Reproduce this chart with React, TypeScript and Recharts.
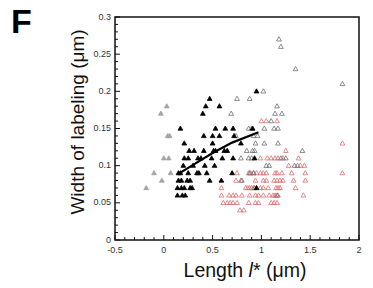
import React from 'react'
import { ScatterChart, Scatter, XAxis, YAxis, ReferenceArea } from 'recharts'

// tick positions (minor every 0.1 / 0.01) and the labelled ones
const xTicks = [-0.5, -0.4, -0.3, -0.2, -0.1, 0, 0.1, 0.2, 0.3, 0.4, 0.5, 0.6, 0.7, 0.8, 0.9, 1, 1.1, 1.2, 1.3, 1.4, 1.5, 1.6, 1.7, 1.8, 1.9, 2]
const xTickLabels = ['-0.5', '0', '0.5', '1', '1.5', '2']
const yTicks = [0, 0.01, 0.02, 0.03, 0.04, 0.05, 0.06, 0.07, 0.08, 0.09, 0.1, 0.11, 0.12, 0.13, 0.14, 0.15, 0.16, 0.17, 0.18, 0.19, 0.2, 0.21, 0.22, 0.23, 0.24, 0.25, 0.26, 0.27, 0.28, 0.29, 0.3]
const yTickLabels = ['0', '0.05', '0.1', '0.15', '0.2', '0.25', '0.3']

// filled black triangles
const blackFilled: [number, number][] = [
  [0.95, 0.2], [0.47, 0.19], [0.43, 0.18], [0.57, 0.18], [0.4, 0.17],
  [0.17, 0.15], [0.53, 0.15], [0.63, 0.15], [0.71, 0.15], [0.91, 0.15],
  [0.41, 0.14], [0.5, 0.14], [0.57, 0.14], [0.72, 0.14],
  [0.21, 0.13], [0.5, 0.13], [0.79, 0.13],
  [0.26, 0.12], [0.31, 0.12], [0.41, 0.12], [0.51, 0.12], [0.53, 0.12], [0.62, 0.12], [0.65, 0.12],
  [0.21, 0.11], [0.25, 0.11], [0.35, 0.11], [0.38, 0.11], [0.49, 0.11], [0.6, 0.11], [0.71, 0.11], [0.93, 0.11],
  [0.2, 0.1], [0.3, 0.1], [0.42, 0.1], [0.52, 0.1],
  [0.15, 0.09], [0.17, 0.09], [0.25, 0.09], [0.34, 0.09], [0.36, 0.09], [0.44, 0.09], [0.7, 0.09],
  [0.15, 0.08], [0.18, 0.08], [0.24, 0.08], [0.27, 0.08], [0.47, 0.08], [0.59, 0.08],
  [0.14, 0.07], [0.18, 0.07], [0.21, 0.07], [0.27, 0.07], [0.29, 0.07], [0.95, 0.07],
  [0.14, 0.06], [0.19, 0.06], [0.22, 0.06],
]

// light grey filled triangles, left side
const greyFilled: [number, number][] = [
  [-0.18, 0.07], [-0.1, 0.09], [-0.03, 0.17], [0.03, 0.18], [0.04, 0.14], [0.06, 0.14],
  [0.0, 0.11], [0.05, 0.11], [-0.02, 0.08], [0.07, 0.09],
]

// dark grey open triangles
const greyOpen: [number, number][] = [
  [1.18, 0.27], [1.2, 0.26], [1.35, 0.23], [1.83, 0.21], [1.02, 0.2], [0.75, 0.19], [0.88, 0.19],
  [0.69, 0.17], [1.16, 0.18], [1.14, 0.17], [1.21, 0.17], [1.1, 0.16],
  [0.87, 0.15], [0.9, 0.15], [1.03, 0.15], [1.13, 0.15], [1.17, 0.15],
  [0.74, 0.14], [0.92, 0.14], [0.96, 0.14],
  [0.94, 0.13], [1.03, 0.13], [1.17, 0.13],
  [0.85, 0.12], [0.91, 0.12], [0.93, 0.12], [1.42, 0.12],
  [0.79, 0.11], [0.87, 0.11], [0.9, 0.11], [1.2, 0.11], [1.25, 0.11],
  [1.05, 0.1], [1.08, 0.1], [1.34, 0.1], [1.37, 0.1],
  [0.8, 0.08], [0.88, 0.09], [0.92, 0.09], [1.16, 0.06], [0.93, 0.07],
]

// red open triangles
const redOpen: [number, number][] = [
  [1.83, 0.13], [1.83, 0.09],
  [1.0, 0.16], [1.05, 0.16], [1.16, 0.16],
  [1.25, 0.12],
  [0.99, 0.11], [1.06, 0.11], [1.1, 0.11], [1.14, 0.11], [1.17, 0.11], [1.22, 0.11], [1.38, 0.11],
  [1.28, 0.1], [1.4, 0.1], [1.44, 0.1],
  [0.75, 0.09], [0.87, 0.09], [0.89, 0.09], [0.92, 0.09], [0.95, 0.09], [0.99, 0.09], [1.02, 0.09], [1.05, 0.09],
  [1.14, 0.09], [1.16, 0.09], [1.21, 0.09], [1.31, 0.09], [1.45, 0.09],
  [0.74, 0.08], [0.79, 0.08], [0.94, 0.08], [1.02, 0.08], [1.05, 0.08], [1.13, 0.08], [1.16, 0.08],
  [1.19, 0.08], [1.22, 0.08], [1.33, 0.08], [1.45, 0.08],
  [0.59, 0.07], [0.84, 0.07], [0.86, 0.07], [0.88, 0.07], [0.9, 0.07], [0.92, 0.07], [0.99, 0.07],
  [1.02, 0.07], [1.07, 0.07], [1.15, 0.07], [1.17, 0.07], [1.19, 0.07], [1.35, 0.07],
  [0.59, 0.06], [0.67, 0.06], [0.71, 0.06], [0.74, 0.06], [0.8, 0.06], [0.88, 0.06], [0.94, 0.06],
  [0.97, 0.06], [1.02, 0.06], [1.08, 0.06], [1.12, 0.06], [1.14, 0.06], [1.17, 0.06], [1.43, 0.06],
  [0.61, 0.05], [0.65, 0.05], [0.68, 0.05], [0.71, 0.05], [0.75, 0.05], [0.87, 0.05], [0.94, 0.05],
  [0.97, 0.05], [1.1, 0.05], [1.13, 0.05], [1.16, 0.05],
  [0.78, 0.04], [0.82, 0.04],
]

// fitted trend through the black points
const fitLine: [number, number][] = [
  [0.15, 0.089], [0.3, 0.101], [0.5, 0.117], [0.7, 0.131], [0.97, 0.145],
]

const toPts = (arr: [number, number][]) => arr.map(([x, y]) => ({ x, y }))
const fmt = (v: number) => String(+v.toFixed(2))
const FONT = '"Liberation Sans", Arial, Helvetica, sans-serif'

const tri = (fill: string, stroke: string) => (props: any) => {
  const { cx, cy } = props
  if (cx == null || cy == null) return <g />
  const w = 2.4
  const h = 4.2
  return (
    <polygon
      points={`${cx},${cy - h * 0.6} ${cx - w},${cy + h * 0.4} ${cx + w},${cy + h * 0.4}`}
      fill={fill}
      stroke={stroke}
      strokeWidth={0.8}
    />
  )
}

const XTick = (props: any) => {
  const { x, y, payload } = props
  const lab = fmt(payload.value)
  const major = xTickLabels.includes(lab)
  return (
    <g>
      <line x1={x} x2={x} y1={y} y2={y - (major ? 5 : 3)} stroke="#111" strokeWidth={1} />
      {major && (
        <text x={x} y={y + 12.5} textAnchor="middle" fontSize={9} fill="#333" fontFamily={FONT}>{lab}</text>
      )}
    </g>
  )
}

const YTick = (props: any) => {
  const { x, y, payload } = props
  const lab = fmt(payload.value)
  const major = yTickLabels.includes(lab)
  return (
    <g>
      <line x1={x} x2={x + (major ? 5 : 3)} y1={y} y2={y} stroke="#111" strokeWidth={1} />
      {major && (
        <text x={x - 4} y={y + 2.5} textAnchor="end" fontSize={9} fill="#333" fontFamily={FONT}>{lab}</text>
      )}
    </g>
  )
}

export default function App() {
  return (
    <div style={{ position: 'absolute', left: 0, top: 0, width: 373, height: 288, background: '#fff' }}>
      <div style={{ position: 'absolute', left: 11, top: 2, fontSize: 34, fontWeight: 'bold', fontFamily: FONT, color: '#000' }}>F</div>
      <ScatterChart width={373} height={288} margin={{ top: 17, right: 14, bottom: 0, left: 0 }}>
        <XAxis
          type="number"
          dataKey="x"
          domain={[-0.5, 2]}
          ticks={xTicks}
          interval={0}
          allowDataOverflow
          height={48}
          axisLine={false}
          tickLine={false}
          tickSize={0}
          tickMargin={0}
          tick={<XTick />}
          label={{
            content: (p: any) => {
              const vb = p.viewBox
              return (
                <text x={vb.x + vb.width / 2 + 8} y={vb.y + 37} textAnchor="middle" fontSize={19.5} fill="#111" fontFamily={FONT}>
                  Length <tspan fontStyle="italic">l</tspan>* (μm)
                </text>
              )
            },
          }}
        />
        <YAxis
          type="number"
          dataKey="y"
          domain={[0, 0.3]}
          ticks={yTicks}
          interval={0}
          allowDataOverflow
          width={115}
          axisLine={false}
          tickLine={false}
          tickSize={0}
          tickMargin={0}
          tick={<YTick />}
          label={{
            content: (p: any) => {
              const vb = p.viewBox
              const cx = vb.x + 84
              const cy = vb.y + 105
              return (
                <text x={cx} y={cy} transform={`rotate(-90, ${cx}, ${cy})`} textAnchor="middle" fontSize={19} fill="#111" fontFamily={FONT}>
                  Width of labeling (μm)
                </text>
              )
            },
          }}
        />
        <ReferenceArea x1={-0.5} x2={2} y1={0} y2={0.3} fill="none" stroke="#111" strokeWidth={1.5} />
        <Scatter data={toPts(greyFilled)} shape={tri('#a3a3a3', '#a3a3a3')} isAnimationActive={false} />
        <Scatter data={toPts(redOpen)} shape={tri('none', '#dc6f6f')} isAnimationActive={false} />
        <Scatter data={toPts(greyOpen)} shape={tri('none', '#6f6f6f')} isAnimationActive={false} />
        <Scatter data={toPts(blackFilled)} shape={tri('#000', '#000')} isAnimationActive={false} />
        <Scatter
          data={toPts(fitLine)}
          line={{ stroke: '#000', strokeWidth: 2.2 }}
          lineType="joint"
          shape={() => <g />}
          isAnimationActive={false}
        />
      </ScatterChart>
    </div>
  )
}
